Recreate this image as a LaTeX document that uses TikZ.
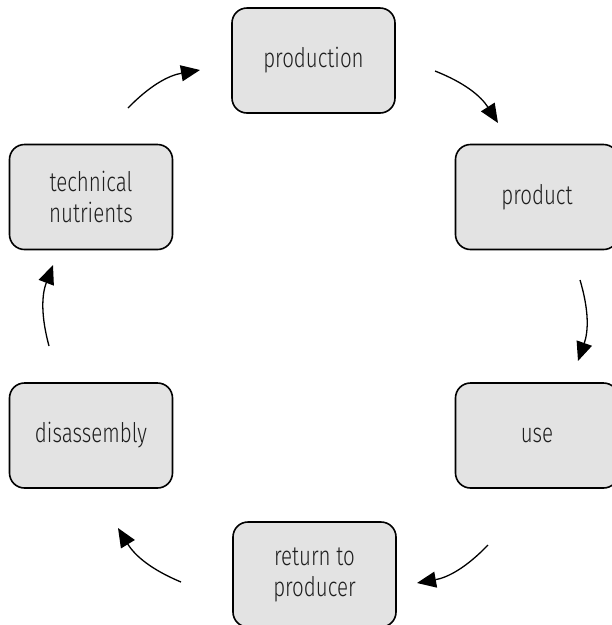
\documentclass[tikz,border=0pt]{standalone}
\usepackage{fontspec}
\setmainfont{Fira Sans}[UprightFont=* Light, FakeStretch=0.76]
\usetikzlibrary{arrows.meta}
\definecolor{boxgray}{HTML}{E3E3E3}
\definecolor{inkgray}{HTML}{1E1E1E}
\tikzset{
  stage/.style={draw=black, line width=1.6pt, fill=boxgray, rounded corners=15pt,
    minimum width=163pt, minimum height=105pt, align=center,
    text=inkgray, font=\fontsize{27}{31}\selectfont},
  flow/.style={line width=1.3pt, -{Triangle[length=19pt,width=16pt]}}
}
\begin{document}
\begin{tikzpicture}[x=1pt,y=1pt]
	%%%%% START %%%%%
	\clip (0,0) rectangle (612,-625);
	\useasboundingbox (0,0) rectangle (612,-625);
	
	\node[stage] (production) at (313.5,-60.5) {production};
	\node[stage] (product) at (537,-197) {product};
	\node[stage] (use) at (537,-435.5) {use};
	\node[stage] (return) at (314.5,-574.5) {return to\\producer};
	\node[stage] (disassembly) at (91,-435.5) {disassembly};
	\node[stage] (nutrients) at (91,-197) {technical\\nutrients};
	
	% free ends of the arrows between the stages
	\coordinate (s1) at (435,-71);  \coordinate (e1) at (498,-123);
	\coordinate (s2) at (580,-280); \coordinate (e2) at (578,-361);
	\coordinate (s3) at (488,-545); \coordinate (e3) at (417,-583);
	\coordinate (s4) at (181,-582); \coordinate (e4) at (118,-528);
	\coordinate (s5) at (49,-346);  \coordinate (e5) at (53,-265);
	\coordinate (s6) at (128,-108); \coordinate (e6) at (200,-70);
	
	\foreach \i in {1,...,6}
		\draw[flow] (s\i) to[bend left=18] (e\i);
	
	%%%%% END %%%%%
\end{tikzpicture}
\end{document}
